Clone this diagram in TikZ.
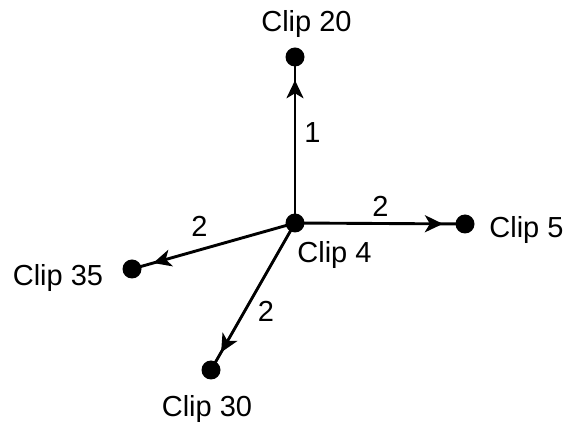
\documentclass[tikz,border=0pt]{standalone}
\usepackage{fontspec}
\setmainfont{Liberation Sans}
\usetikzlibrary{arrows.meta,decorations.markings}
\begin{document}
\begin{tikzpicture}[x=1pt,y=1pt,
  dot/.style={circle,fill=black,inner sep=0pt,minimum size=19pt},
  lbl/.style={inner sep=0pt,anchor=base,font=\fontsize{29}{31}\selectfont},
  edge/.style={line width=2.9pt,postaction={decorate},
    decoration={markings,mark=at position #1 with {\arrow{Stealth[length=18pt,width=17pt,inset=5pt]}}}},
  edge/.default=0.87]
\useasboundingbox (0,0) rectangle (568,423);
\node[dot] (c4) at (295,200) {};
\node[dot] (c20) at (295,366) {};
\node[dot] (c5) at (465,199) {};
\node[dot] (c35) at (132,154) {};
\node[dot] (c30) at (211,53) {};
\draw[edge=0.86] (c4.center) -- (c20.center);
\draw[edge] (c4.center) -- (c5.center);
\draw[edge] (c4.center) -- (c35.center);
\draw[edge=0.88] (c4.center) -- (c30.center);
\node[lbl] (t20) at (306.5,391) {Clip 20};
\node[lbl] (t4) at (334.5,160) {Clip 4};
\node[lbl] (t5) at (526.5,185) {Clip 5};
\node[lbl] (t35) at (58,137) {Clip 35};
\node[lbl] (t30) at (207,6) {Clip 30};
\node[lbl] (w1) at (312.5,280) {1};
\node[lbl] (w5) at (380.5,206) {2};
\node[lbl] (w35) at (199.5,186) {2};
\node[lbl] (w30) at (266,101) {2};
\end{tikzpicture}
\end{document}
